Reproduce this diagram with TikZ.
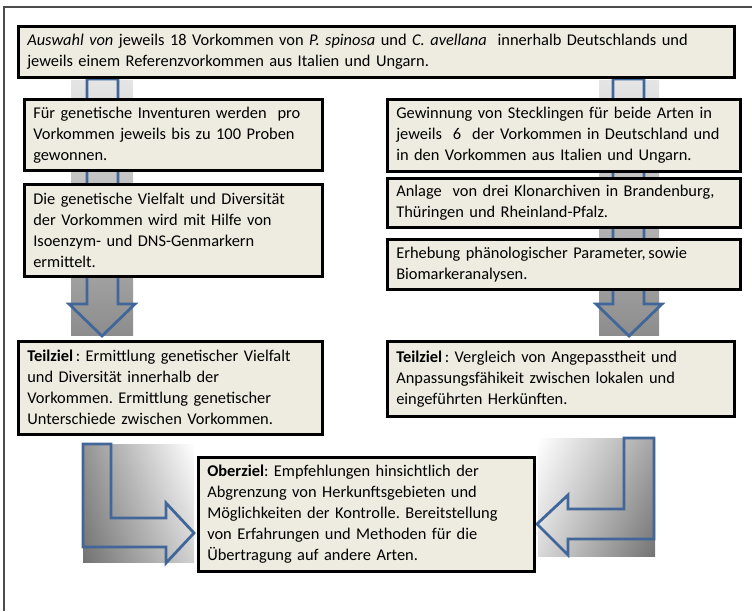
\documentclass[tikz,border=0pt]{standalone}
\usepackage{fontspec}
\setmainfont{Carlito}
\usetikzlibrary{shadows,shadings}
\definecolor{boxfill}{HTML}{EEECE1}
\definecolor{arrowblue}{HTML}{41679A}
\frenchspacing

\begin{document}
\begin{tikzpicture}[x=1pt,y=-1pt,
    box/.style={draw=black, line width=2.6pt, fill=boxfill, anchor=north west,
        align=left, inner xsep=9pt, inner ysep=0pt, text width=#1,
        font=\fontsize{16.4}{21}\selectfont,
        drop shadow={shadow xshift=1.5pt, shadow yshift=-1.5pt, fill=black!50, opacity=0.4}},
    bigarrow/.style={draw=arrowblue, line width=2.8pt, line join=miter}]
    \useasboundingbox (0,0) rectangle (752,611);
    % frame
    \draw[black!70, line width=1.2pt] (4,611) -- (4,7) -- (752,7);
    % gray columns behind the boxes
    \shade[top color=black!10, bottom color=black!45] (71,80) rectangle (133,335);
    \shade[top color=black!10, bottom color=black!45] (599,80) rectangle (659,335);
    \draw[bigarrow] (87,79) -- (118,79) -- (118,304) -- (135,304) -- (102,336) -- (69,304) -- (87,304) -- cycle;
    \draw[bigarrow] (613,79) -- (644,79) -- (644,304) -- (662,304) -- (629,336) -- (596,304) -- (613,304) -- cycle;
    % L-shaped arrows
    \shade[upper left=black!42, upper right=white, lower left=black!55, lower right=black!18] (83,444) rectangle (194,562);
    \draw[bigarrow] (83,444) -- (111,444) -- (111,518) -- (166,518) -- (166,503) -- (194,533) -- (166,563) -- (166,547) -- (83,547) -- cycle;
    \shade[upper left=white, upper right=black!35, lower left=black!15, lower right=black!55] (538,438) rectangle (655,556);
    \draw[bigarrow] (654,438) -- (624,438) -- (624,509) -- (568,509) -- (568,495) -- (537,524) -- (568,555) -- (568,539) -- (654,539) -- cycle;
    % boxes
    \node[box=698pt, minimum height=51pt] (auswahl) at (17,25)
        {\textit{Auswahl von} jeweils 18 Vorkommen von \textit{P. spinosa} und \textit{C. avellana}~ innerhalb Deutschlands und\\
         jeweils einem Referenzvorkommen aus Italien und Ungarn.};
    \node[box=280pt, minimum height=71pt] (proben) at (23,98)
        {Für genetische Inventuren werden~ pro\\Vorkommen jeweils bis zu 100 Proben\\gewonnen.};
    \node[box=280pt, minimum height=92pt] (marker) at (23,183)
        {Die genetische Vielfalt und Diversität\\der Vorkommen wird mit Hilfe von\\Isoenzym- und DNS-Genmarkern\\ermittelt.};
    \node[box=286pt, minimum height=93pt] (teilziel1) at (17,340)
        {\textbf{Teilziel}\,: Ermittlung genetischer Vielfalt\\und Diversität innerhalb der\\Vorkommen. Ermittlung genetischer\\Unterschiede zwischen Vorkommen.};
    \node[box=335pt, minimum height=72pt] (stecklinge) at (386,98)
        {Gewinnung von Stecklingen für beide Arten in\\jeweils~ 6~ der Vorkommen in Deutschland und\\in den Vorkommen aus Italien und Ungarn.};
    \node[box=335pt, minimum height=49pt] (archive) at (386,177)
        {Anlage~ von drei Klonarchiven in Brandenburg,\\Thüringen und Rheinland-Pfalz.};
    \node[box=335pt, minimum height=50pt] (pheno) at (386,238)
        {Erhebung phänologischer Parameter,\,sowie\\Biomarkeranalysen.};
    \node[box=329pt, minimum height=75pt] (teilziel2) at (386,340)
        {\textbf{Teilziel}\,: Vergleich von Angepasstheit und\\Anpassungsfähikeit zwischen lokalen und\\eingeführten Herkünften.};
    \node[box=318pt, minimum height=114pt] (oberziel) at (197,456)
        {\textbf{Oberziel}: Empfehlungen hinsichtlich der\\Abgrenzung von Herkunftsgebieten und\\Möglichkeiten der Kontrolle. Bereitstellung\\von Erfahrungen und Methoden für die\\Übertragung auf andere Arten.};
\end{tikzpicture}
\end{document}
